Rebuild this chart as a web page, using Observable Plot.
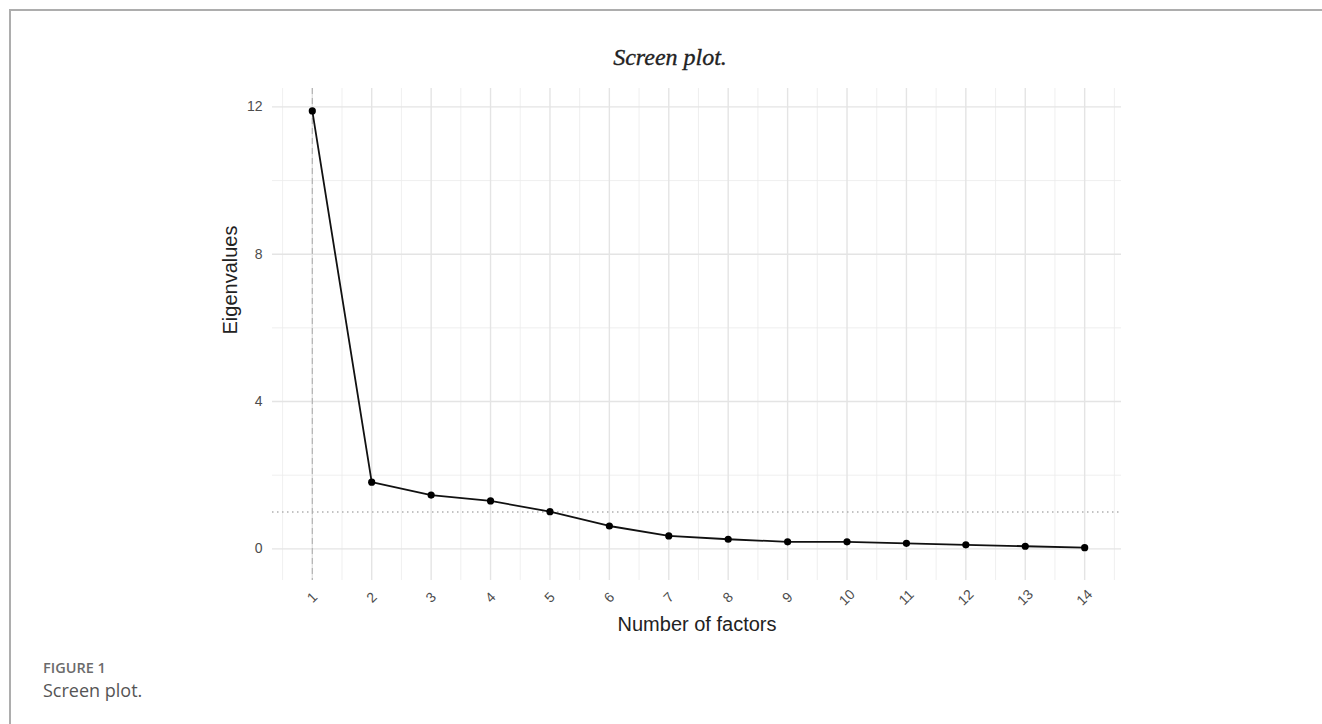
<!DOCTYPE html>
<html>
<head>
<meta charset="utf-8">
<script src="https://cdn.jsdelivr.net/npm/d3@7"></script>
<script src="https://cdn.jsdelivr.net/npm/@observablehq/plot@0.6"></script>
<style>
  html, body { margin: 0; padding: 0; background: #fff; }
  #page { position: relative; width: 1322px; height: 724px; overflow: hidden; }
  #frame { position: absolute; left: 9px; top: 9px; right: 0; bottom: 0;
           border-left: 2px solid #adadad; border-top: 2px solid #adadad; }
  #title { position: absolute; left: 0; width: 1340px; top: 43px; text-align: center;
           font-family: "Liberation Serif", serif; font-style: italic; font-size: 24px;
           color: #222; line-height: 28px; -webkit-text-stroke: 0.35px #222; }
  #chart { position: absolute; left: 0; top: 0; }
  #figlabel { position: absolute; left: 43px; top: 659px; font-family: "Open Sans", sans-serif;
              font-weight: 600; font-size: 14.5px; color: #6b6b6b; line-height: 18px; }
  #figcap { position: absolute; left: 43px; top: 679px; font-family: "Open Sans", sans-serif;
            font-size: 18px; color: #555; line-height: 22px; }
</style>
</head>
<body>
<div id="page">
  <div id="frame"></div>
  <div id="title">Screen plot.</div>
  <div id="chart"></div>
  <div id="figlabel">FIGURE 1</div>
  <div id="figcap">Screen plot.</div>
</div>
<script>
const factors = [1, 2, 3, 4, 5, 6, 7, 8, 9, 10, 11, 12, 13, 14];
const eigenvalues = [11.89, 1.81, 1.46, 1.30, 1.01, 0.62, 0.35, 0.26, 0.19, 0.19, 0.15, 0.11, 0.07, 0.03];
const yTicks = [0, 4, 8, 12];
const yMinor = [2, 6, 10];
const xMinor = [0.5, 1.5, 2.5, 3.5, 4.5, 5.5, 6.5, 7.5, 8.5, 9.5, 10.5, 11.5, 12.5, 13.5, 14.5];
const kaiserLine = [1];
const retainedLine = [1];
const xTitle = ["Number of factors"];
const yTitle = ["Eigenvalues"];

const data = factors.map((f, i) => ({factor: f, value: eigenvalues[i]}));

const chart = Plot.plot({
  width: 1322,
  height: 650,
  marginLeft: 272,
  marginRight: 201,
  marginTop: 88,
  marginBottom: 70,
  style: {fontFamily: "Liberation Sans, Arial, sans-serif", fontSize: "14px", background: "transparent"},
  x: {type: "linear", domain: [0.33, 14.62]},
  y: {domain: [-0.86, 12.5]},
  marks: [
    Plot.ruleY(yMinor, {stroke: "#ebebeb", strokeWidth: 0.8}),
    Plot.ruleX(xMinor, {stroke: "#ebebeb", strokeWidth: 0.8}),
    Plot.ruleY(yTicks, {stroke: "#e4e4e4", strokeWidth: 1.4}),
    Plot.ruleX(factors, {stroke: "#e4e4e4", strokeWidth: 1.4}),
    Plot.ruleX(retainedLine, {stroke: "#b0b0b0", strokeWidth: 1.1, strokeDasharray: "6,4"}),
    Plot.ruleY(kaiserLine, {stroke: "#b0b0b0", strokeWidth: 1.4, strokeDasharray: "1.5,3.5"}),
    Plot.line(data, {x: "factor", y: "value", stroke: "#111", strokeWidth: 1.8}),
    Plot.dot(data, {x: "factor", y: "value", r: 3.6, fill: "#000", stroke: "none"}),
    Plot.axisY({ticks: yTicks, tickSize: 0, tickPadding: 10, label: null, fontSize: 14, color: "#4d4d4d"}),
    Plot.axisX({ticks: factors, tickSize: 0, tickRotate: -45, textAnchor: "middle", lineAnchor: "middle",
                tickPadding: 17, label: null, fontSize: 14, color: "#4d4d4d"}),
    Plot.text(xTitle, {text: d => d, frameAnchor: "bottom", dy: 50, fontSize: 20, fill: "#222"}),
    Plot.text(yTitle, {text: d => d, frameAnchor: "left", dx: -42, rotate: -90, fontSize: 20, fill: "#222"})
  ]
});
document.getElementById("chart").appendChild(chart);
</script>
</body>
</html>
